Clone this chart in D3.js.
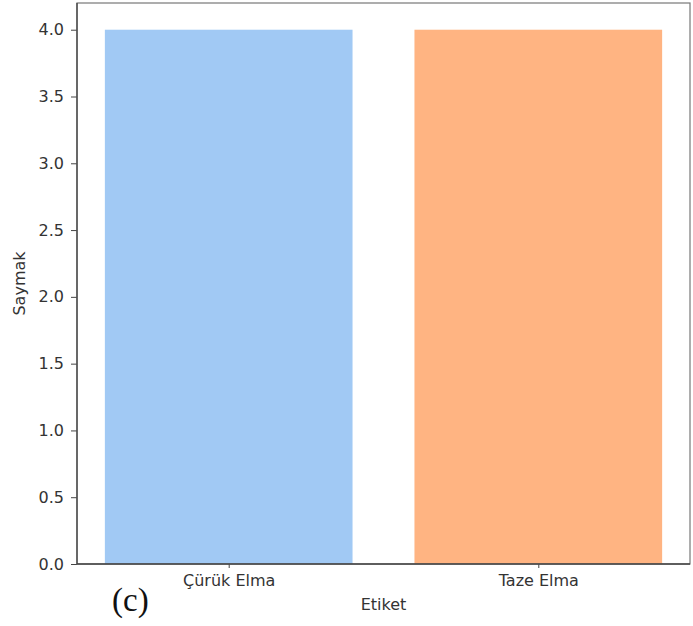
<!DOCTYPE html>
<html>
<head>
<meta charset="utf-8">
<script src="https://cdn.jsdelivr.net/npm/d3@7"></script>
<style>
  body { margin: 0; background: #fff; }
  svg { display: block; }
  .tick text { font-family: "DejaVu Sans", sans-serif; font-size: 16px; fill: #333; }
  .tick line { stroke: #444; }
  .domain { display: none; }
</style>
</head>
<body>
<svg id="chart" width="693" height="626"></svg>
<script>
// Data
const categories = ['Çürük Elma', 'Taze Elma'];
const counts = [4, 4];
const barColors = ['#a1c9f4', '#ffb482'];
const yTicks = [0, 0.5, 1.0, 1.5, 2.0, 2.5, 3.0, 3.5, 4.0];

const margin = { top: 3, right: 3, bottom: 62, left: 77 },
    width = 693 - margin.left - margin.right,
    height = 626 - margin.top - margin.bottom;

const svg = d3.select('#chart');
const g = svg.append('g').attr('transform', 'translate(' + margin.left + ',' + margin.top + ')');

// Category positions like matplotlib: index -0.49 .. n-1+0.49
const x = d3.scaleLinear().domain([-0.49, categories.length - 1 + 0.49]).range([0, width]);
const y = d3.scaleLinear().domain([0, 4.2]).range([height, 0]);
const barW = x(0.8) - x(0);

g.selectAll('.bar').data(counts).enter().append('rect')
    .attr('class', 'bar')
    .attr('x', (d, i) => x(i) - barW / 2)
    .attr('y', d => y(d))
    .attr('width', barW)
    .attr('height', d => y(0) - y(d))
    .attr('fill', (d, i) => barColors[i]);

// Axes
g.append('g')
    .attr('transform', 'translate(0,' + height + ')')
    .call(d3.axisBottom(x).tickValues(categories.map((c, i) => i)).tickFormat(i => categories[i]).tickSize(4).tickPadding(7));

g.append('g')
    .call(d3.axisLeft(y).tickValues(yTicks).tickFormat(d3.format('.1f')).tickSize(6).tickPadding(7));

// Frame: lighter top/right, darker left/bottom
g.append('rect')
    .attr('width', width).attr('height', height)
    .attr('fill', 'none').attr('stroke', '#777').attr('stroke-width', 1.2);
g.append('path')
    .attr('d', 'M0,0V' + height + 'H' + width)
    .attr('fill', 'none').attr('stroke', '#444').attr('stroke-width', 1.3);

// Axis labels
g.append('text')
    .attr('x', width / 2).attr('y', height + 46)
    .attr('text-anchor', 'middle')
    .style('font-family', '"DejaVu Sans", sans-serif').style('font-size', '16px').style('fill', '#333')
    .text('Etiket');

svg.append('text')
    .attr('transform', 'translate(25,' + (margin.top + height / 2) + ') rotate(-90)')
    .attr('text-anchor', 'middle')
    .style('font-family', '"DejaVu Sans", sans-serif').style('font-size', '16px').style('fill', '#333')
    .text('Saymak');

// Panel label
svg.append('text')
    .attr('x', 112).attr('y', 611)
    .style('font-family', '"Liberation Serif", "DejaVu Serif", serif').style('font-size', '33px').style('fill', '#111')
    .text('(c)');
</script>
</body>
</html>
